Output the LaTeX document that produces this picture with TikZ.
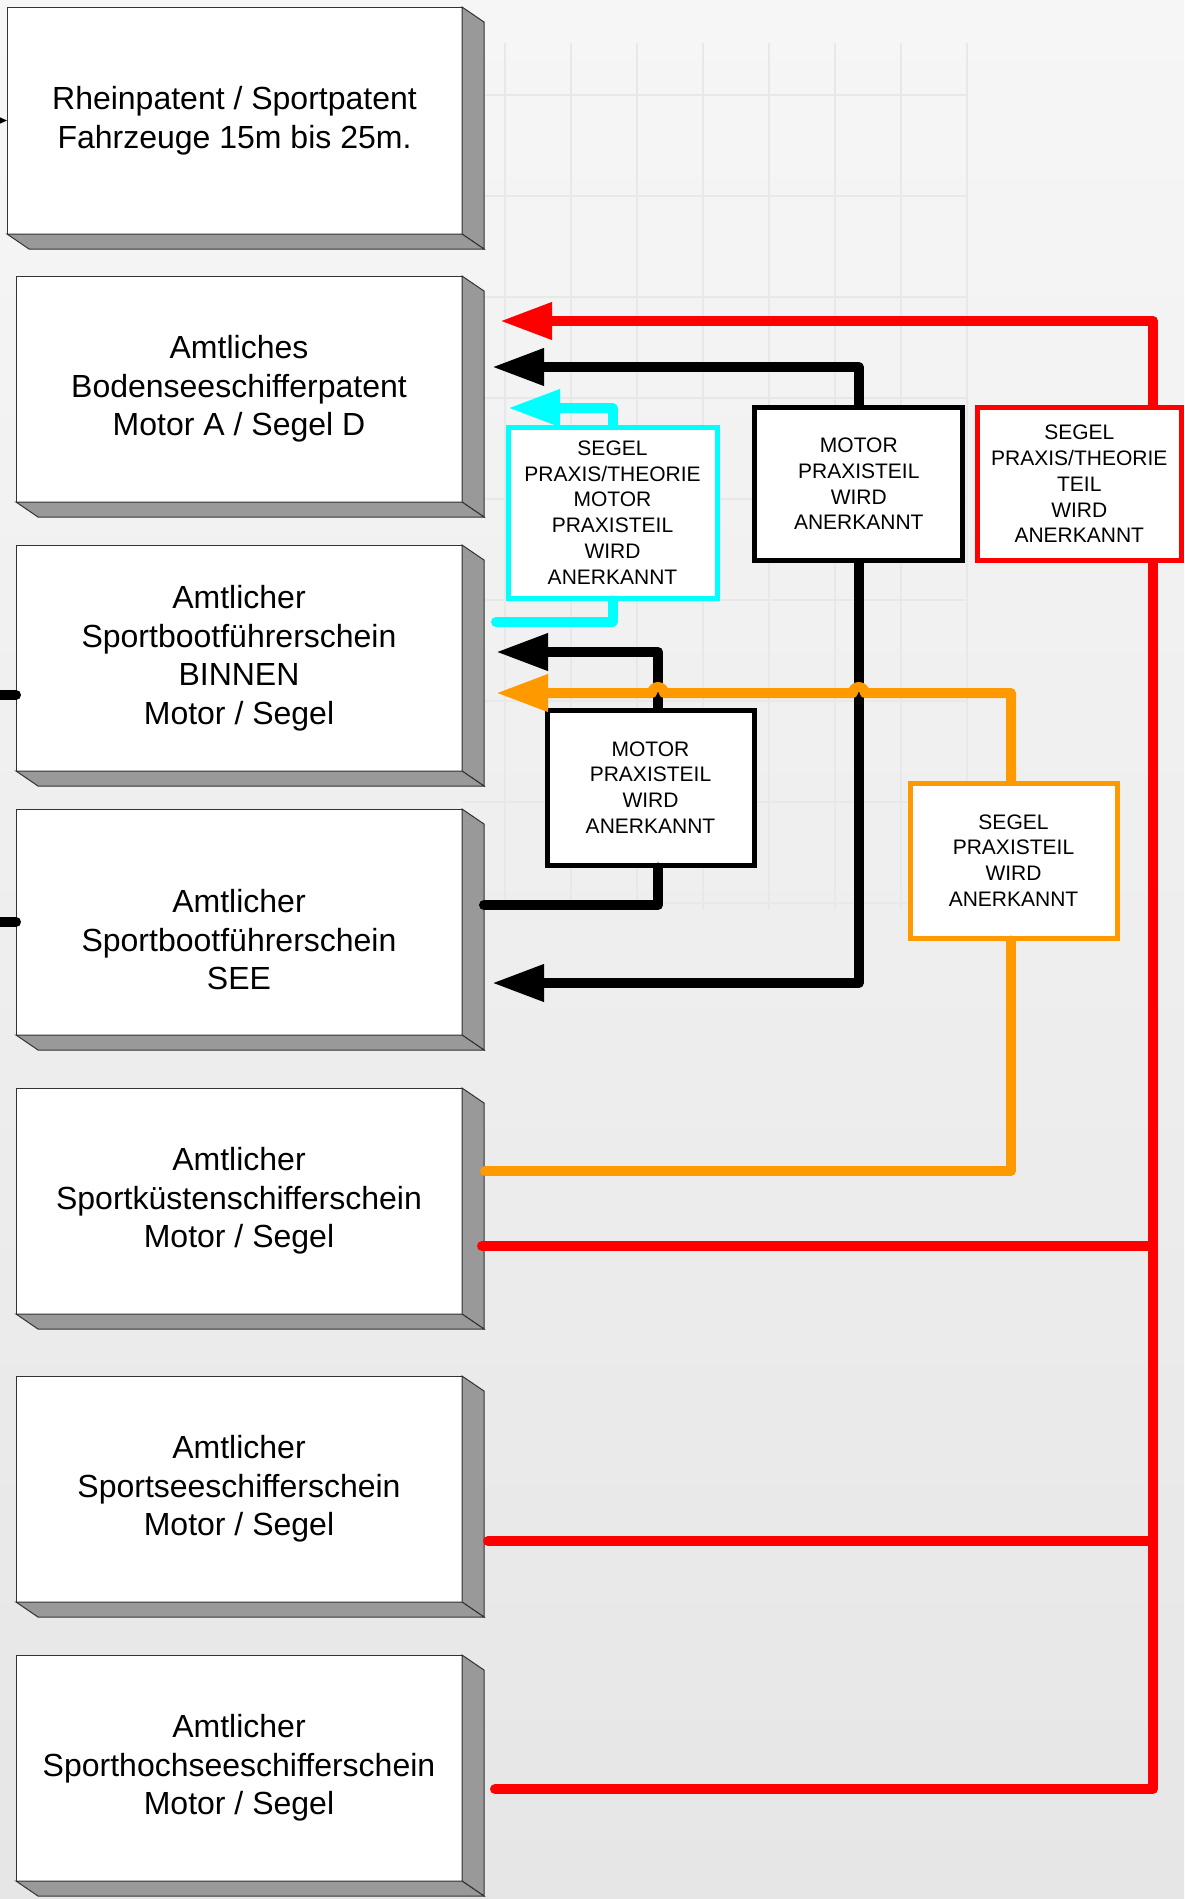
\documentclass[tikz,border=0pt]{standalone}
\usepackage{fontspec}
\setmainfont{Liberation Sans}
\usepackage{tikz}
\usetikzlibrary{positioning,calc,arrows.meta}
\definecolor{linered}{HTML}{FF0000}
\definecolor{linecyan}{HTML}{00FFFF}
\definecolor{lineorange}{HTML}{FF9900}
\definecolor{slabgray}{HTML}{999999}
\definecolor{slabedge}{HTML}{333333}
\definecolor{bgtop}{HTML}{F6F6F6}
\definecolor{bgbottom}{HTML}{E6E6E6}
\definecolor{gridgray}{HTML}{E8E8E8}

% side and bottom faces of a licence box
\newcommand{\slabsides}[1]{%
  \filldraw[fill=slabgray, draw=slabedge, line width=1pt] (#1.north east) -- ++(22,15) -- ($(#1.south east)+(22,15)$) -- (#1.south east) -- cycle;
  \filldraw[fill=slabgray, draw=slabedge, line width=1pt] (#1.south west) -- ++(22,15) -- ($(#1.south east)+(22,15)$) -- (#1.south east) -- cycle;
}

\begin{document}
\begin{tikzpicture}[
        x=1pt, y=-1pt,
        licence/.style={rectangle, draw=slabedge, line width=1pt, fill=white, inner sep=0pt, outer sep=0pt, minimum width=446pt, minimum height=226pt, align=center, font=\fontsize{32}{38.5}\selectfont},
        licencetext/.style={align=center, font=\fontsize{32}{38.5}\selectfont},
        credit/.style={rectangle, fill=white, line width=5pt, inner sep=0pt, align=center, font=\fontsize{21}{25.7}\selectfont},
        link/.style={line width=10pt, line cap=round, line join=round},
        tip/.style={-{Triangle[length=52pt,width=35pt]}},
        gridline/.style={gridgray, line width=2pt}
    ]

        % Background
        \useasboundingbox (0,0) rectangle (1184,1899);
        \shade[top color=bgtop, bottom color=bgbottom] (0,0) rectangle (1184,1899);
        \foreach \gx in {505,571,...,967} \draw[gridline] (\gx,43) -- (\gx,910);
        \foreach \gy in {95,196,...,903} \draw[gridline] (462,\gy) -- (968,\gy);

        % Licences
        \node[licence, minimum width=455pt, minimum height=227pt] (b1) at (234.5,120.5) {Rheinpatent / Sportpatent\\Fahrzeuge 15m bis 25m.};
        \node[licence, below=42pt of b1, xshift=4.5pt] (b2) {Amtliches\\Bodenseeschifferpatent\\Motor A / Segel D};
        \node[licence, below=43pt of b2] (b3) {Amtlicher\\Sportbootführerschein\\BINNEN\\Motor / Segel};
        \node[licence, below=38pt of b3] (b4) {};
        \node[licence, below=53pt of b4] (b5) {Amtlicher\\Sportküstenschifferschein\\Motor / Segel};
        \node[licence, below=62pt of b5] (b6) {Amtlicher\\Sportseeschifferschein\\Motor / Segel};
        \node[licence, below=53pt of b6] (b7) {Amtlicher\\Sporthochseeschifferschein\\Motor / Segel};
        \node[licencetext, yshift=-18pt] (b4text) at (b4) {Amtlicher\\Sportbootführerschein\\SEE};
        \slabsides{b1}
        \slabsides{b2}
        \slabsides{b3}
        \slabsides{b4}
        \slabsides{b5}
        \slabsides{b6}
        \slabsides{b7}

        % Credits
        \node[credit, draw=linecyan, minimum width=209pt, minimum height=171pt] (cbox) at (612.5,512.5) {SEGEL\\PRAXIS/THEORIE\\MOTOR\\PRAXISTEIL\\WIRD\\ANERKANNT};
        \node[credit, draw=black, minimum width=208pt, minimum height=153pt] (kbox) at (858.8,484) {MOTOR\\PRAXISTEIL\\WIRD\\ANERKANNT};
        \node[credit, draw=linered, minimum width=203.5pt, minimum height=153pt] (rbox) at (1079.3,484) {SEGEL\\PRAXIS/THEORIE\\TEIL\\WIRD\\ANERKANNT};
        \node[credit, draw=black, minimum width=207pt, minimum height=155pt] (mbox) at (650.5,787.5) {MOTOR\\PRAXISTEIL\\WIRD\\ANERKANNT};
        \node[credit, draw=lineorange, minimum width=207pt, minimum height=155pt] (obox) at (1013.5,860.5) {SEGEL\\PRAXISTEIL\\WIRD\\ANERKANNT};

        % Bends
        \coordinate (redtop) at (1153,321);
        \coordinate (redbot) at (1153,1789);
        \coordinate (red5) at (1153,1246);
        \coordinate (red6) at (1153,1541);
        \coordinate (blktop) at (859,367);
        \coordinate (blkbot) at (859,983);
        \coordinate (cyntop) at (613,408);
        \coordinate (cynbot) at (613,622);
        \coordinate (mottop) at (658,652);
        \coordinate (motbot) at (658,905);
        \coordinate (orgtop) at (1011,693);
        \coordinate (orgbot) at (1011,1171);
        \coordinate (in1) at (-12,120.5);
        \coordinate (in3) at (-12,695);
        \coordinate (in4) at (-12,922);

        % Incoming from the left
        \draw[line width=1pt, -{Triangle[length=7pt,width=6pt]}] (in1) -- (b1.west);
        \draw[link] (in3) -- (in3 -| b3.west);
        \draw[link] (in4) -- (in4 -| b4.west);

        % Red: B5, B6, B7 via red box to B2
        \draw[link, linered, shorten <=33pt] (b7.east |- redbot) -- (redbot) -- (rbox.south -| redbot);
        \draw[link, linered, shorten <=20pt] (b5.east |- red5) -- (red5);
        \draw[link, linered, shorten <=26pt] (b6.east |- red6) -- (red6);
        \draw[link, linered, tip, shorten >=38pt] (rbox.north -| redtop) -- (redtop) -- (b2.east |- redtop);

        % Black: box to B2 and B4
        \draw[link, tip, shorten >=30pt] (kbox.north) -- (kbox.north |- blktop) -- (b2.east |- blktop);
        \draw[link, tip, shorten >=30pt] (kbox.south) -- (kbox.south |- blkbot) -- (b4.east |- blkbot);

        % Cyan: B3 via cyan box to B2
        \draw[link, linecyan, shorten <=34pt] (b3.east |- cynbot) -- (cbox.south |- cynbot) -- (cbox.south);
        \draw[link, linecyan, tip, shorten >=46pt] (cbox.north) -- (cbox.north |- cyntop) -- (b2.east |- cyntop);

        % Motor: B4 via motor box to B3
        \draw[link, shorten <=22pt] (b4.east |- motbot) -- (motbot) -- (mbox.south -| motbot);
        \draw[link, tip, shorten >=34pt] (mbox.north -| mottop) -- (mottop) -- (b3.east |- mottop);

        % Orange: B5 via orange box to B3, hopping the black lines
        \draw[link, lineorange, shorten <=23pt] (b5.east |- orgbot) -- (orgbot) -- (obox.south -| orgbot);
        \draw[link, lineorange, tip, shorten >=34pt] (obox.north -| orgtop) -- (orgtop)
            -- ($(kbox.south |- orgtop)+(6,0)$) arc[start angle=0, end angle=180, radius=6pt]
            -- ($(mottop |- orgtop)+(6,0)$) arc[start angle=0, end angle=180, radius=6pt]
            -- (b3.east |- orgtop);

    \end{tikzpicture}
\end{document}
